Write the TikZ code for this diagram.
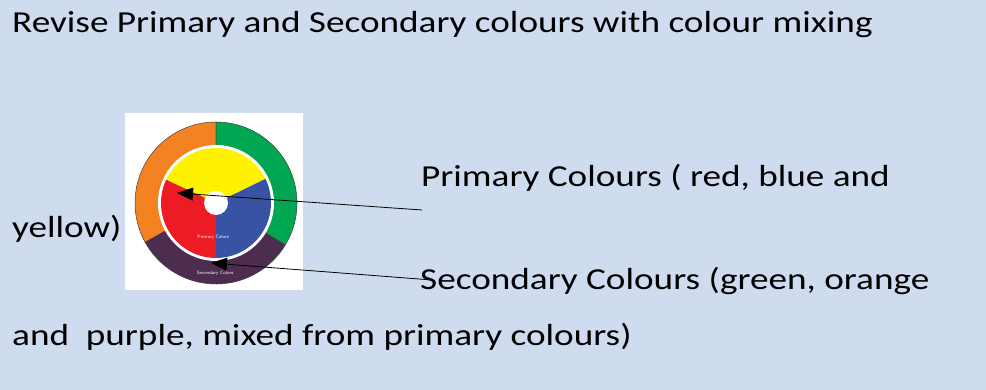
\documentclass[tikz,border=0pt]{standalone}
\usepackage{fontspec}
\setmainfont{Carlito}[FakeStretch=1.22]
\usetikzlibrary{arrows.meta}
\definecolor{slidebg}{RGB}{207,220,239}
\definecolor{wheelorange}{RGB}{245,130,32}
\definecolor{wheelgreen}{RGB}{0,166,81}
\definecolor{wheelpurple}{RGB}{76,45,80}
\definecolor{wheelyellow}{RGB}{255,242,0}
\definecolor{wheelred}{RGB}{237,28,36}
\definecolor{wheelblue}{RGB}{57,83,164}
\tikzset{
  slidetext/.style={anchor=base west, inner sep=0pt, font=\fontsize{30.5}{36}\selectfont},
  wheeltext/.style={text=white, inner sep=0pt, font=\sffamily\fontsize{4.8}{5}\selectfont},
  pointer/.style={line width=0.8pt, -{Triangle[length=16pt,width=13pt]}},
  sector/.style={draw=black!75, line width=0.5pt}
}
\begin{document}
\begin{tikzpicture}[x=1pt, y=1pt]
    % Slide background
    \fill[slidebg] (0,0) rectangle (986,390);
    \useasboundingbox (0,0) rectangle (986,390);

    % Colour wheel picture
    \fill[white] (125,100) rectangle (303,277);
    \coordinate (C) at (216,187);
    % outer ring: secondary colours
    \filldraw[sector, fill=wheelorange] (C) -- ++(90:81) arc (90:209:81) -- cycle;
    \filldraw[sector, fill=wheelpurple] (C) -- ++(209:81) arc (209:329:81) -- cycle;
    \filldraw[sector, fill=wheelgreen] (C) -- ++(329:81) arc (329:450:81) -- cycle;
    \fill[white] (C) circle (58);
    % inner disc: primary colours
    \fill[wheelyellow] (C) -- ++(26:55) arc (26:155:55) -- cycle;
    \fill[wheelred] (C) -- ++(155:55) arc (155:270:55) -- cycle;
    \fill[wheelblue] (C) -- ++(270:55) arc (270:386:55) -- cycle;
    \fill[white] (C) circle (12);
    \node[wheeltext] (primlabel) at (213,153) {Primary Colors};
    \node[wheeltext] (secnlabel) at (215,117) {Secondary Colors};

    % Texts
    \node[slidetext] (title) at (12,357) {Revise Primary and Secondary colours with colour mixing};
    \node[slidetext] (prim) at (421,203) {Primary Colours ( red, blue and};
    \node[slidetext] (primend) at (12,152) {yellow)};
    \node[slidetext] (secn) at (420,100) {Secondary Colours (green, orange};
    \node[slidetext] (secnend) at (12,44) {and\ \ purple, mixed from primary colours)};

    % Arrows into the wheel
    \coordinate (primstart) at (422,180);
    \coordinate (primtip) at (177,197);
    \coordinate (secnstart) at (432,110);
    \coordinate (secntip) at (211,127);
    \draw[pointer] (primstart) -- (primtip);
    \draw[pointer] (secnstart) -- (secntip);
\end{tikzpicture}
\end{document}
